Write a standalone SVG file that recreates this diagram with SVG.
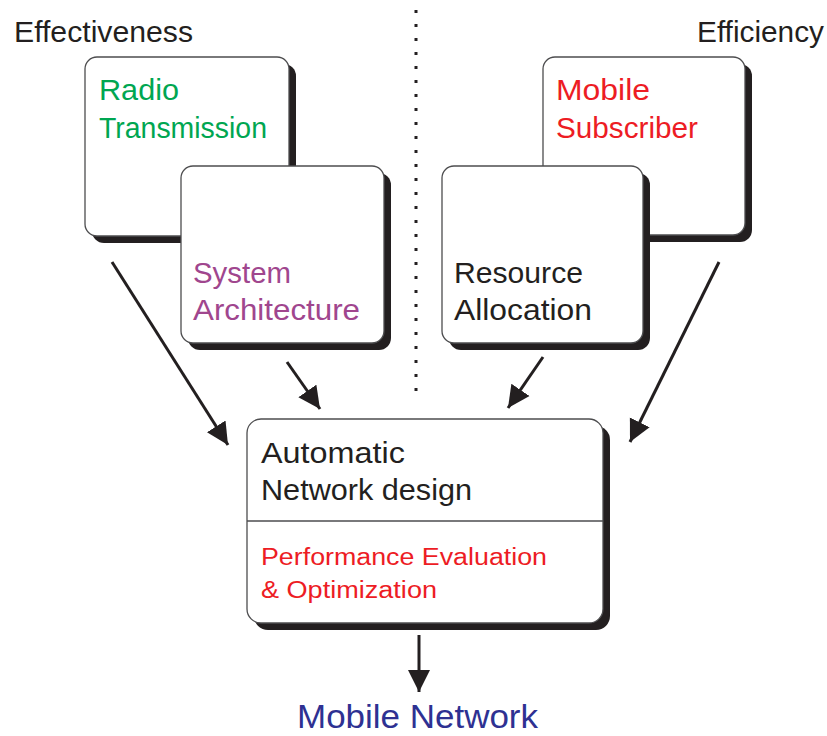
<svg xmlns="http://www.w3.org/2000/svg" width="827" height="736" viewBox="0 0 827 736">
  <defs>
    <style>
      .shadow { fill: #231f20; }
      .box { fill: #ffffff; stroke: #4d4d4f; stroke-width: 1.3; }
      .lbl { font-family: "Liberation Sans", Arial, sans-serif; font-size: 29px; }
      .small { font-size: 23px; }
      .big { font-size: 34px; }
      .dark { fill: #231f20; }
      .green { fill: #00a651; }
      .purple { fill: #a0468e; }
      .red { fill: #ed1c24; }
      .blue { fill: #2e3192; }
      .conn { stroke: #231f20; stroke-width: 3; fill: none; marker-end: url(#head); }
    </style>
    <marker id="head" markerUnits="userSpaceOnUse" markerWidth="24" markerHeight="24" viewBox="0 0 24 24" refX="22" refY="12" orient="auto">
      <path d="M0,1 L22,12 L0,23 Z" fill="#231f20"/>
    </marker>
  </defs>

  <rect width="827" height="736" fill="#ffffff"/>

  <!-- column headings -->
  <text class="lbl dark" x="14" y="42" textLength="179" lengthAdjust="spacingAndGlyphs">Effectiveness</text>
  <text class="lbl dark" x="697" y="42" textLength="127" lengthAdjust="spacingAndGlyphs">Efficiency</text>

  <!-- dotted divider -->
  <line x1="416" y1="10" x2="416" y2="392" stroke="#231f20" stroke-width="3" stroke-dasharray="3 11"/>

  <!-- Radio Transmission -->
  <g id="radio">
    <rect class="shadow" x="92" y="64" width="204" height="179" rx="12"/>
    <rect class="box" x="85" y="57" width="204" height="179" rx="12"/>
    <text class="lbl green" x="99" y="100" textLength="80" lengthAdjust="spacingAndGlyphs">Radio</text>
    <text class="lbl green" x="99" y="138" textLength="168" lengthAdjust="spacingAndGlyphs">Transmission</text>
  </g>

  <!-- System Architecture -->
  <g id="system">
    <rect class="shadow" x="188" y="173" width="203" height="177" rx="12"/>
    <rect class="box" x="181" y="166" width="203" height="177" rx="12"/>
    <text class="lbl purple" x="193" y="283" textLength="98" lengthAdjust="spacingAndGlyphs">System</text>
    <text class="lbl purple" x="193" y="320" textLength="167" lengthAdjust="spacingAndGlyphs">Architecture</text>
  </g>

  <!-- Mobile Subscriber -->
  <g id="subscriber">
    <rect class="shadow" x="550" y="64" width="202" height="178" rx="12"/>
    <rect class="box" x="543" y="57" width="202" height="178" rx="12"/>
    <text class="lbl red" x="556" y="100" textLength="94" lengthAdjust="spacingAndGlyphs">Mobile</text>
    <text class="lbl red" x="556" y="138" textLength="142" lengthAdjust="spacingAndGlyphs">Subscriber</text>
  </g>

  <!-- Resource Allocation -->
  <g id="resource">
    <rect class="shadow" x="449" y="173" width="201" height="177" rx="12"/>
    <rect class="box" x="442" y="166" width="201" height="177" rx="12"/>
    <text class="lbl dark" x="454" y="283" textLength="129" lengthAdjust="spacingAndGlyphs">Resource</text>
    <text class="lbl dark" x="454" y="320" textLength="138" lengthAdjust="spacingAndGlyphs">Allocation</text>
  </g>

  <!-- Automatic Network design -->
  <g id="design">
    <rect class="shadow" x="254" y="426" width="356" height="204" rx="14"/>
    <rect class="box" x="247" y="419" width="356" height="204" rx="14"/>
    <line x1="247" y1="521" x2="603" y2="521" stroke="#4d4d4f" stroke-width="1.3"/>
    <text class="lbl dark" x="261" y="463" textLength="144" lengthAdjust="spacingAndGlyphs">Automatic</text>
    <text class="lbl dark" x="261" y="500" textLength="211" lengthAdjust="spacingAndGlyphs">Network design</text>
    <text class="lbl small red" x="261" y="565" textLength="286" lengthAdjust="spacingAndGlyphs">Performance Evaluation</text>
    <text class="lbl small red" x="261" y="598" textLength="176" lengthAdjust="spacingAndGlyphs">&amp; Optimization</text>
  </g>

  <!-- Mobile Network -->
  <g id="network">
    <text class="lbl big blue" x="297" y="728" textLength="241" lengthAdjust="spacingAndGlyphs">Mobile Network</text>
  </g>

  <!-- connectors -->
  <g id="connectors">
    <line class="conn" x1="112" y1="262" x2="228" y2="445"/>
    <line class="conn" x1="287" y1="362" x2="320" y2="409"/>
    <line class="conn" x1="543" y1="357" x2="508" y2="408"/>
    <line class="conn" x1="719" y1="262" x2="630" y2="442"/>
    <line class="conn" x1="419" y1="635" x2="419" y2="692"/>
  </g>
</svg>
